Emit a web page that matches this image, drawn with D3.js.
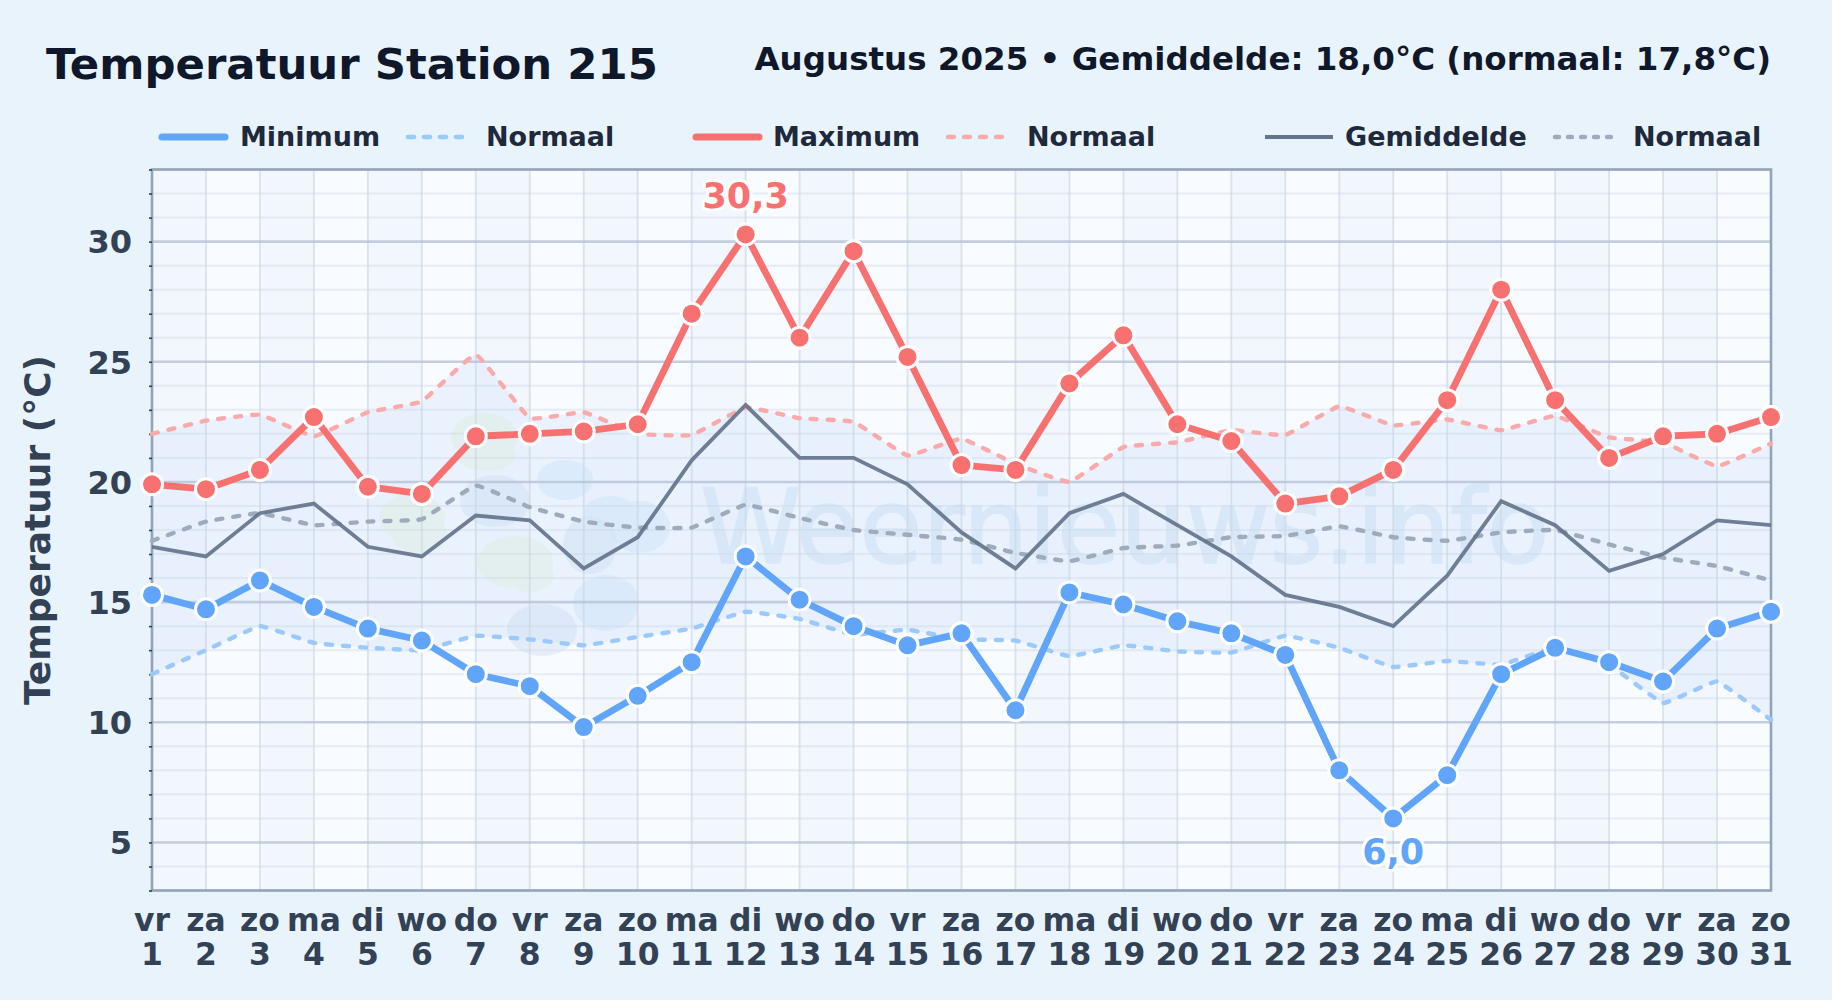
<!DOCTYPE html>
<html>
<head>
<meta charset="utf-8">
<title>Temperatuur Station 215</title>
<script src="https://cdn.jsdelivr.net/npm/d3@7"></script>
<style>
	html, body { margin: 0; padding: 0; background: #e9f3fc; }
	svg { display: block; font-family: "DejaVu Sans", sans-serif; font-weight: bold; }
</style>
</head>
<body>
<div id="chart"></div>
<script>
var days = [1,2,3,4,5,6,7,8,9,10,11,12,13,14,15,16,17,18,19,20,21,22,23,24,25,26,27,28,29,30,31];
var dayNames = ["vr","za","zo","ma","di","wo","do","vr","za","zo","ma","di","wo","do","vr","za","zo","ma","di","wo","do","vr","za","zo","ma","di","wo","do","vr","za","zo"];

var tMin = [15.3,14.7,15.9,14.8,13.9,13.4,12.0,11.5,9.8,11.1,12.5,16.9,15.1,14.0,13.2,13.7,10.5,15.4,14.9,14.2,13.7,12.8,8.0,6.0,7.8,12.0,13.1,12.5,11.7,13.9,14.6];
var tMax = [19.9,19.7,20.5,22.7,19.8,19.5,21.9,22.0,22.1,22.4,27.0,30.3,26.0,29.6,25.2,20.7,20.5,24.1,26.1,22.4,21.7,19.1,19.4,20.5,23.4,28.0,23.4,21.0,21.9,22.0,22.7];
var tAvg = [17.3,16.9,18.7,19.1,17.3,16.9,18.6,18.4,16.4,17.7,20.9,23.2,21.0,21.0,19.9,17.9,16.4,18.7,19.5,18.2,16.9,15.3,14.8,14.0,16.1,19.2,18.2,16.3,17.0,18.4,18.2];
var normMin = [12.0,13.0,14.0,13.3,13.1,13.0,13.6,13.45,13.2,13.55,13.9,14.6,14.3,13.65,13.85,13.45,13.4,12.75,13.2,12.95,12.9,13.6,13.1,12.3,12.55,12.4,13.1,12.4,10.8,11.7,10.1];
var normMax = [22.0,22.55,22.8,21.9,22.9,23.35,25.3,22.65,22.9,22.0,21.95,23.1,22.65,22.5,21.1,21.8,20.75,20.0,21.45,21.65,22.15,21.95,23.15,22.35,22.6,22.15,22.75,21.85,21.65,20.65,21.6];
var normAvg = [17.55,18.35,18.7,18.2,18.35,18.45,19.85,18.95,18.35,18.1,18.1,19.05,18.5,18.0,17.8,17.6,17.05,16.7,17.25,17.35,17.7,17.75,18.15,17.7,17.55,17.9,18.0,17.4,16.85,16.5,15.9];

var majorTicks = [5,10,15,20,25,30];
var minorTicks = [3,4,6,7,8,9,11,12,13,14,16,17,18,19,21,22,23,24,26,27,28,29,31,32,33];

var legendLabels = ["Minimum","Normaal","Maximum","Normaal","Gemiddelde","Normaal"];

function init(){
	var width = 1832, height = 1000;
	var left = 152, right = 1771, top = 169.5, bottom = 890.5;

	var x = d3.scaleLinear().domain([1,31]).range([left,right]);
	var y = d3.scaleLinear().domain([3,33]).range([bottom,top]);

	var svg = d3.select("#chart").append("svg")
				.attr("width", width)
				.attr("height", height);

	svg.append("rect").attr("width", width).attr("height", height).attr("fill", "#e9f3fc");

	svg.append("text")
		.attr("x", 46).attr("y", 79)
		.attr("font-size", 43.4).attr("fill", "#0f172a")
		.text("Temperatuur Station 215");

	svg.append("text")
		.attr("x", 1771).attr("y", 70)
		.attr("text-anchor", "end")
		.attr("font-size", 32.5).attr("fill", "#0f172a")
		.text("Augustus 2025 \u2022 Gemiddelde: 18,0\u00B0C (normaal: 17,8\u00B0C)");

	//plot background and alternating day columns
	svg.append("rect").attr("x", left).attr("y", top)
		.attr("width", right-left).attr("height", bottom-top)
		.attr("fill", "#f8fbff");

	svg.append("g").selectAll("rect")
		.data(days.slice(0,30).filter(function(d){return d % 2 == 1;}))
		.enter().append("rect")
		.attr("x", function(d){return x(d);})
		.attr("y", top)
		.attr("width", x(2)-x(1))
		.attr("height", bottom-top)
		.attr("fill", "#eef4fb")
		.attr("opacity", 0.6);

	//band between the normal min and normal max
	var curve = d3.curveCardinal.tension(0.75);
	var band = d3.area()
		.x(function(d,i){return x(days[i]);})
		.y0(function(d,i){return y(normMin[i]);})
		.y1(function(d){return y(d);})
		.curve(curve);

	svg.append("path").datum(normMax)
		.attr("d", band)
		.attr("fill", "#dbe9fb")
		.attr("opacity", 0.5);

	watermark(svg);

	//grid
	var grid = svg.append("g");
	grid.selectAll("line.minor").data(minorTicks).enter().append("line")
		.attr("x1", left).attr("x2", right)
		.attr("y1", function(d){return y(d);}).attr("y2", function(d){return y(d);})
		.attr("stroke", "#cbd5e1").attr("stroke-opacity", 0.38).attr("stroke-width", 2);
	grid.selectAll("line.day").data(days).enter().append("line")
		.attr("x1", function(d){return x(d);}).attr("x2", function(d){return x(d);})
		.attr("y1", top).attr("y2", bottom)
		.attr("stroke", "#cbd5e1").attr("stroke-opacity", 0.65).attr("stroke-width", 1.8);
	grid.selectAll("line.major").data(majorTicks).enter().append("line")
		.attr("x1", left).attr("x2", right)
		.attr("y1", function(d){return y(d);}).attr("y2", function(d){return y(d);})
		.attr("stroke", "#b6c3d6").attr("stroke-opacity", 0.8).attr("stroke-width", 2.6);

	//frame
	svg.append("rect").attr("x", left).attr("y", top)
		.attr("width", right-left).attr("height", bottom-top)
		.attr("fill", "none").attr("stroke", "#94a3b8").attr("stroke-width", 2.6);

	//axes: d3 draws the small ticks and the labels
	var yAxis = d3.axisLeft(y).tickValues(majorTicks.concat(minorTicks)).tickSize(3).tickPadding(22)
		.tickFormat(function(d){return majorTicks.indexOf(d) >= 0 ? d : "";});
	var yg = svg.append("g").attr("transform", "translate(" + left + ",0)").call(yAxis);
	yg.select(".domain").remove();
	yg.selectAll("line").attr("stroke", "#334155").attr("stroke-width", 1.6);
	yg.selectAll("text").attr("font-size", 32).attr("fill", "#334155")
		.attr("font-family", "DejaVu Sans").attr("font-weight", "bold").attr("x", -20)
		.attr("y", 1);

	var xLabels = svg.append("g").selectAll("g").data(days).enter().append("g")
		.attr("transform", function(d){return "translate(" + x(d) + ",0)";})
		.attr("text-anchor", "middle").attr("font-size", 31.4).attr("fill", "#334155");
	xLabels.append("text").attr("y", 931).text(function(d,i){return dayNames[i];});
	xLabels.append("text").attr("y", 965).text(function(d){return d;});

	svg.append("text")
		.attr("transform", "translate(50,530) rotate(-90)")
		.attr("text-anchor", "middle")
		.attr("font-size", 36).attr("fill", "#334155")
		.text("Temperatuur (\u00B0C)");

	//series
	function lineOf(values, useCurve){
		var l = d3.line().x(function(d,i){return x(days[i]);}).y(function(d){return y(d);});
		if(useCurve) l.curve(curve);
		return l(values);
	}

	var dashedSeries = [
		{v: normMin, c: "#9cc9fb"},
		{v: normMax, c: "#f9abab"},
		{v: normAvg, c: "#9eabbc"}
	];
	svg.append("g").selectAll("path").data(dashedSeries).enter().append("path")
		.attr("d", function(d){return lineOf(d.v, true);})
		.attr("fill", "none").attr("stroke", function(d){return d.c;})
		.attr("stroke-width", 4.4).attr("stroke-dasharray", "6 11").attr("stroke-linecap", "round");

	svg.append("path").attr("d", lineOf(tAvg))
		.attr("fill", "none").attr("stroke", "#64748b").attr("stroke-opacity", 0.92).attr("stroke-width", 3.8)
		.attr("stroke-linejoin", "miter");

	var solidSeries = [
		{v: tMin, c: "#60a5fa"},
		{v: tMax, c: "#f87171"}
	];
	solidSeries.forEach(function(s){
		svg.append("path").attr("d", lineOf(s.v))
			.attr("fill", "none").attr("stroke", s.c).attr("stroke-width", 6.8)
			.attr("stroke-linejoin", "round");
		svg.append("g").selectAll("circle").data(s.v).enter().append("circle")
			.attr("cx", function(d,i){return x(days[i]);})
			.attr("cy", function(d){return y(d);})
			.attr("r", 10.5)
			.attr("fill", s.c)
			.attr("stroke", "white").attr("stroke-width", 3);
	});

	//labels on the highest and the lowest value
	var hi = d3.max(tMax), lo = d3.min(tMin);
	var extremes = [
		{v: hi, c: "#f87171", yy: y(hi) - 26, i: tMax.indexOf(hi)},
		{v: lo, c: "#60a5fa", yy: y(lo) + 46, i: tMin.indexOf(lo)}
	];
	svg.append("g").selectAll("text").data(extremes).enter().append("text")
		.attr("x", function(d){return x(days[d.i]);})
		.attr("y", function(d){return d.yy;})
		.attr("text-anchor", "middle").attr("font-size", 35)
		.attr("fill", function(d){return d.c;})
		.attr("stroke", "white").attr("stroke-width", 6).attr("stroke-linejoin", "round")
		.attr("paint-order", "stroke")
		.text(function(d){return d.v.toFixed(1).replace(".", ",");});

	legend(svg);
}

//pale logo and site name behind the lines
function watermark(svg){
	var shapes = [
		{c: "#dcefdc", o: 0.42, parts: [[484,437,33,24],[486,455,30,16],[412,518,33,24],[420,535,28,18],[515,562,38,26],[530,575,24,17]]},
		{c: "#c7daf0", o: 0.36, parts: [[495,501,35,26],[590,545,27,29],[542,630,35,26]]},
		{c: "#cfe5fb", o: 0.5, parts: [[565,480,28,20],[610,512,26,16],[640,527,30,26],[606,603,33,28]]}
	];
	var g = svg.append("g").selectAll("g").data(shapes).enter().append("g")
		.attr("opacity", function(d){return d.o;});
	g.selectAll("ellipse").data(function(d){return d.parts.map(function(p){return {p: p, c: d.c};});})
		.enter().append("ellipse")
		.attr("cx", function(d){return d.p[0];})
		.attr("cy", function(d){return d.p[1];})
		.attr("rx", function(d){return d.p[2];})
		.attr("ry", function(d){return d.p[3];})
		.attr("fill", function(d){return d.c;});

	svg.append("text")
		.attr("x", 700).attr("y", 563)
		.attr("font-size", 103).attr("font-weight", "normal")
		.attr("fill", "#bcd7f2").attr("stroke", "#bcd7f2").attr("stroke-width", 1.6)
		.attr("opacity", 0.35)
		.text("Weernieuws.info");
}

function legend(svg){
	var items = [
		{x1: 162, x2: 225, tx: 240, c: "#60a5fa", w: 7, dash: null},
		{x1: 408, x2: 462, tx: 486, c: "#9cc9fb", w: 4.5, dash: "6 10"},
		{x1: 696, x2: 759, tx: 773, c: "#f87171", w: 7, dash: null},
		{x1: 948, x2: 1003, tx: 1027, c: "#f9abab", w: 4.5, dash: "6 10"},
		{x1: 1265, x2: 1333, tx: 1345, c: "#64748b", w: 4, dash: null},
		{x1: 1555, x2: 1618, tx: 1633, c: "#9eabbc", w: 4.4, dash: "4 9"}
	];
	var g = svg.append("g").selectAll("g").data(items).enter().append("g");
	g.append("line")
		.attr("x1", function(d){return d.x1;}).attr("x2", function(d){return d.x2;})
		.attr("y1", 137).attr("y2", 137)
		.attr("stroke", function(d){return d.c;})
		.attr("stroke-width", function(d){return d.w;})
		.attr("stroke-dasharray", function(d){return d.dash;})
		.attr("stroke-linecap", function(d){return d.c == "#64748b" ? "butt" : "round";});
	g.append("text")
		.attr("x", function(d){return d.tx;}).attr("y", 146)
		.attr("font-size", 27).attr("fill", "#1e293b")
		.text(function(d,i){return legendLabels[i];});
}

window.onload = init;
</script>
</body>
</html>
